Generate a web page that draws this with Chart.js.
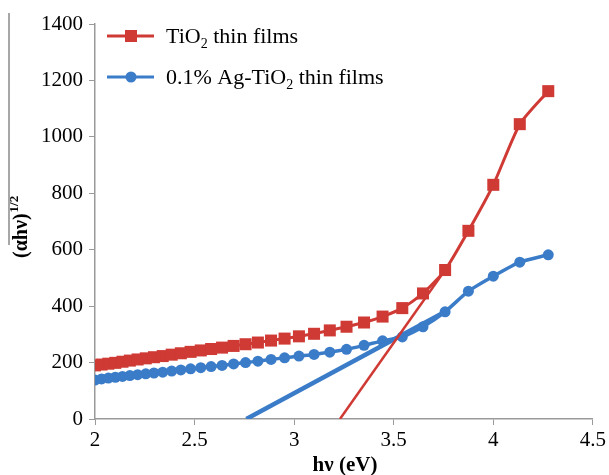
<!DOCTYPE html>
<html>
<head>
<meta charset="utf-8">
<script src="https://cdn.jsdelivr.net/npm/chart.js@4/dist/chart.umd.min.js"></script>
<style>
  html, body { margin: 0; padding: 0; background: #fff; }
  #wrap { width: 609px; height: 475px; position: relative; }
</style>
</head>
<body>
<div id="wrap"><canvas id="myChart" width="609" height="475"></canvas></div>
<script>
// photon energy (eV)
const hv = [2.000, 2.033, 2.067, 2.102, 2.138, 2.175, 2.214, 2.255, 2.296, 2.340,
            2.385, 2.431, 2.480, 2.531, 2.583, 2.638, 2.696, 2.756, 2.818, 2.884,
            2.952, 3.024, 3.100, 3.179, 3.263, 3.351, 3.444, 3.543, 3.647, 3.758,
            3.875, 4.000, 4.133, 4.276];

// (ahv)^1/2 for TiO2 thin films
const tio2 = [190, 193, 196, 199, 203, 207, 211, 215, 219, 223,
              228, 233, 238, 243, 248, 253, 259, 265, 271, 278,
              285, 293, 302, 314, 327, 342, 363, 393, 445, 528,
              667, 830, 1045, 1162];

// (ahv)^1/2 for 0.1% Ag-TiO2 thin films
const agTio2 = [138, 142, 145, 148, 151, 154, 157, 160, 163, 166,
                170, 174, 178, 182, 186, 190, 195, 200, 205, 211,
                217, 223, 229, 237, 247, 261, 277, 291, 327, 380,
                453, 506, 556, 582];

// linear extrapolation lines (band gap)
const tio2FitX = [3.23, 3.758];
const tio2FitY = [0, 528];
const agFitX = [2.76, 3.758];
const agFitY = [0, 380];

const xTicks = { min: 2, max: 4.5, step: 0.5 };
const yTicks = { min: 0, max: 1400, step: 200 };

const RED = '#CF3A35';
const BLUE = '#3B7CC9';
const SERIF = '"Liberation Serif", "Times New Roman", serif';

function toPoints(xs, ys) {
    return xs.map((x, i) => ({ x: x, y: ys[i] }));
}

// legend + axis titles drawn on canvas (sub/superscripts)
const decorations = {
    id: 'decorations',
    afterDraw(chart) {
        const ctx = chart.ctx;
        ctx.save();

        // thin grey rule at the far left
        ctx.strokeStyle = '#8a8a8a';
        ctx.lineWidth = 1.5;
        ctx.beginPath();
        ctx.moveTo(9, 13);
        ctx.lineTo(9, 245);
        ctx.stroke();

        // legend
        const entries = [
            { y: 36, color: RED, style: 'rect', parts: [['TiO'], ['2', 'sub'], [' thin films']] },
            { y: 77, color: BLUE, style: 'circle', parts: [['0.1% Ag-TiO'], ['2', 'sub'], [' thin films']] }
        ];
        entries.forEach(e => {
            ctx.strokeStyle = e.color;
            ctx.lineWidth = 3;
            ctx.beginPath();
            ctx.moveTo(107, e.y);
            ctx.lineTo(154, e.y);
            ctx.stroke();
            ctx.fillStyle = e.color;
            if (e.style === 'rect') {
                ctx.fillRect(125, e.y - 6, 12, 12);
            } else {
                ctx.beginPath();
                ctx.arc(131, e.y, 5.5, 0, Math.PI * 2);
                ctx.fill();
            }
            ctx.fillStyle = '#000';
            ctx.textBaseline = 'alphabetic';
            let x = 166;
            e.parts.forEach(p => {
                const sub = p[1] === 'sub';
                ctx.font = (sub ? '14px ' : '22px ') + SERIF;
                ctx.fillText(p[0], x, e.y + 7 + (sub ? 5 : 0));
                x += ctx.measureText(p[0]).width;
            });
        });

        // y axis title, rotated
        ctx.translate(27, 258);
        ctx.rotate(-Math.PI / 2);
        ctx.fillStyle = '#000';
        ctx.font = 'bold 20px ' + SERIF;
        ctx.textBaseline = 'alphabetic';
        const main = '(\u03B1h\u03BD)';
        ctx.fillText(main, 0, 0);
        const w = ctx.measureText(main).width;
        ctx.font = 'bold 13px ' + SERIF;
        ctx.fillText('1/2', w + 1, -9);
        ctx.setTransform(1, 0, 0, 1, 0, 0);

        // x axis title
        ctx.font = 'bold 21px ' + SERIF;
        ctx.textAlign = 'center';
        ctx.fillText('h\u03BD (eV)', 345, 471);

        ctx.restore();
    }
};

const ctx = document.getElementById('myChart').getContext('2d');

new Chart(ctx, {
    type: 'scatter',
    data: {
        datasets: [
            {
                label: 'TiO2 fit',
                data: toPoints(tio2FitX, tio2FitY),
                showLine: true,
                borderColor: RED,
                borderWidth: 2.5,
                pointRadius: 0,
                order: 1
            },
            {
                label: 'Ag-TiO2 fit',
                data: toPoints(agFitX, agFitY),
                showLine: true,
                borderColor: BLUE,
                borderWidth: 4.5,
                pointRadius: 0,
                order: 2
            },
            {
                label: 'TiO2 thin films',
                data: toPoints(hv, tio2),
                showLine: true,
                borderColor: RED,
                backgroundColor: RED,
                borderWidth: 3,
                pointStyle: 'rect',
                pointRadius: 8.5,
                pointBorderWidth: 0,
                tension: 0.2,
                order: 3
            },
            {
                label: '0.1% Ag-TiO2 thin films',
                data: toPoints(hv, agTio2),
                showLine: true,
                borderColor: BLUE,
                backgroundColor: BLUE,
                borderWidth: 3.5,
                pointStyle: 'circle',
                pointRadius: 5.5,
                pointBorderWidth: 0,
                tension: 0.2,
                order: 4
            }
        ]
    },
    options: {
        responsive: false,
        animation: false,
        layout: { padding: { left: 0, right: 15, top: 24, bottom: 0 } },
        plugins: {
            legend: { display: false },
            tooltip: { enabled: false }
        },
        scales: {
            x: {
                type: 'linear',
                min: xTicks.min,
                max: xTicks.max,
                afterFit: s => { s.height = 56; },
                ticks: {
                    stepSize: xTicks.step,
                    color: '#000',
                    padding: 3,
                    maxRotation: 0,
                    callback: v => String(v),
                    font: { family: SERIF, size: 21 }
                },
                grid: {
                    display: true,
                    drawOnChartArea: false,
                    drawTicks: true,
                    tickLength: 6,
                    color: '#9a9a9a'
                },
                border: { display: true, color: '#9a9a9a', width: 1.5 }
            },
            y: {
                min: yTicks.min,
                max: yTicks.max,
                afterFit: s => { s.width = 95; },
                ticks: {
                    stepSize: yTicks.step,
                    color: '#000',
                    padding: 6,
                    callback: v => String(v),
                    font: { family: SERIF, size: 21 }
                },
                grid: {
                    display: true,
                    drawOnChartArea: false,
                    drawTicks: true,
                    tickLength: 6,
                    color: '#9a9a9a'
                },
                border: { display: true, color: '#9a9a9a', width: 1.5 }
            }
        }
    },
    plugins: [decorations]
});
</script>
</body>
</html>
